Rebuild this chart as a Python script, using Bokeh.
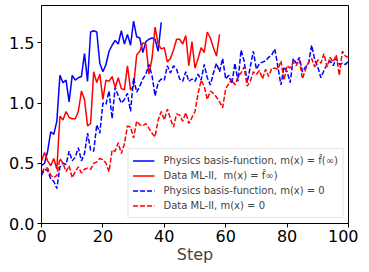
from bokeh.plotting import figure
from bokeh.models import FixedTicker, PrintfTickFormatter, Range1d, Legend, LegendItem
from bokeh.embed import file_html
from bokeh.resources import INLINE

steps_phys_hat = list(range(0, 40))
phys_hat = [0.48, 0.50, 0.60, 0.76, 0.74, 0.85, 1.23, 1.17, 1.19, 1.01,
            1.23, 1.19, 1.21, 1.22, 1.41, 1.18, 1.59, 1.60, 1.59, 1.33,
            1.26, 1.32, 1.43, 1.48, 1.52, 1.49, 1.60, 1.49, 1.57, 1.48,
            1.68, 1.55, 1.54, 1.42, 1.51, 1.53, 1.54, 1.53, 1.43, 1.67]

steps_data_hat = list(range(0, 59))
data_hat = [0.52, 0.59, 0.52, 0.48, 0.54, 0.45, 0.89, 0.86, 0.93, 0.88,
            0.87, 0.87, 0.93, 1.10, 1.03, 0.81, 0.83, 1.26, 1.17, 1.24,
            1.03, 1.19, 1.18, 1.22, 1.13, 1.21, 1.12, 1.11, 1.31, 1.11,
            1.14, 1.40, 1.43, 1.50, 1.49, 1.24, 1.37, 1.63, 1.49, 1.45,
            1.46, 1.34, 1.37, 1.44, 1.53, 1.53, 1.49, 1.56, 1.31, 1.51,
            1.29, 1.37, 1.46, 1.42, 1.59, 1.54, 1.46, 1.39, 1.57]

steps_zero = list(range(0, 101))
phys_zero = [0.40, 0.45, 0.44, 0.37, 0.35, 0.29, 0.47, 0.50, 0.49, 0.60,
             0.52, 0.55, 0.63, 0.52, 0.58, 0.75, 0.61, 0.60, 0.82, 0.75,
             1.00, 0.99, 1.10, 0.87, 1.13, 1.06, 1.00, 1.03, 1.08, 0.93,
             1.21, 1.09, 1.14, 1.20, 1.24, 1.32, 1.23, 1.06, 1.17, 1.20,
             1.19, 1.31, 1.25, 1.31, 1.28, 1.20, 1.18, 1.26, 1.18, 1.20,
             1.18, 1.24, 1.19, 1.32, 1.21, 1.15, 1.25, 1.33, 1.26, 1.37,
             1.20, 1.23, 1.16, 1.33, 1.18, 1.44, 1.35, 1.17, 1.30, 1.43,
             1.28, 1.33, 1.34, 1.35, 1.38, 1.40, 1.45, 1.30, 1.15, 1.30,
             1.26, 1.17, 1.37, 1.33, 1.38, 1.26, 1.30, 1.33, 1.48, 1.36,
             1.30, 1.21, 1.27, 1.32, 1.35, 1.31, 1.37, 1.32, 1.33, 1.32,
             1.35]
data_zero = [0.42, 0.46, 0.46, 0.40, 0.38, 0.40, 0.54, 0.50, 0.43, 0.48,
             0.38, 0.43, 0.47, 0.42, 0.45, 0.46, 0.45, 0.50, 0.51, 0.54,
             0.53, 0.50, 0.43, 0.61, 0.60, 0.67, 0.58, 0.66, 0.81, 0.80,
             0.71, 0.85, 0.82, 0.81, 0.83, 0.79, 0.75, 0.72, 0.86, 0.93,
             0.86, 0.95, 0.87, 0.80, 0.91, 0.90, 0.85, 0.92, 0.83, 0.88,
             0.93, 1.08, 1.19, 1.14, 1.03, 1.10, 1.08, 1.05, 1.01, 0.96,
             1.12, 1.16, 1.20, 1.15, 1.22, 1.25, 1.30, 1.14, 1.18, 1.26,
             1.24, 1.27, 1.20, 1.28, 1.22, 1.29, 1.29, 1.28, 1.35, 1.19,
             1.31, 1.29, 1.34, 1.31, 1.36, 1.20, 1.28, 1.34, 1.37, 1.30,
             1.36, 1.33, 1.41, 1.30, 1.38, 1.34, 1.40, 1.23, 1.43, 1.39,
             1.38]

labels = ["Physics basis-function, m(x) = f\u0302(\u221e)",
          "Data ML-II,  m(x) = f\u0302\u221e)",
          "Physics basis-function, m(x) = 0",
          "Data ML-II, m(x) = 0"]
x_ticks = [0, 20, 40, 60, 80, 100]
y_ticks = [0.0, 0.5, 1.0, 1.5]

FONT = "DejaVu Sans"

p = figure(frame_width=307, frame_height=218, output_backend="svg",
           toolbar_location=None,
           x_range=Range1d(0, 100), y_range=Range1d(0, 1.81),
           min_border_left=41, min_border_right=10, min_border_top=5,
           min_border_bottom=44)
p.outline_line_color = "black"
p.outline_line_width = 1
p.xgrid.visible = False
p.ygrid.visible = False

for ax in (p.xaxis[0], p.yaxis[0]):
    ax.major_label_text_font = FONT
    ax.major_label_text_font_size = "16px"
    ax.major_label_text_color = "black"
    ax.axis_line_color = "black"
    ax.major_tick_line_color = "black"
    ax.major_tick_out = 4
    ax.major_tick_in = 0
    ax.minor_tick_line_color = None
p.xaxis.major_label_standoff = 2
p.yaxis.major_label_standoff = 3
p.xaxis.ticker = FixedTicker(ticks=x_ticks)
p.yaxis.ticker = FixedTicker(ticks=y_ticks)
p.yaxis.formatter = PrintfTickFormatter(format="%.1f")
p.xaxis.axis_label = "Step"
p.xaxis.axis_label_text_font = FONT
p.xaxis.axis_label_text_font_size = "16px"
p.xaxis.axis_label_text_font_style = "normal"
p.xaxis.axis_label_standoff = 0

r1 = p.line(steps_phys_hat, phys_hat, line_color="blue", line_width=1.5)
r2 = p.line(steps_data_hat, data_hat, line_color="red", line_width=1.5)
r3 = p.line(steps_zero, phys_zero, line_color="blue", line_width=1.5, line_dash="5 2")
r4 = p.line(steps_zero, data_zero, line_color="red", line_width=1.5, line_dash="5 2")

legend = Legend(items=[LegendItem(label=labels[0], renderers=[r1]),
                       LegendItem(label=labels[1], renderers=[r2]),
                       LegendItem(label=labels[2], renderers=[r3]),
                       LegendItem(label=labels[3], renderers=[r4])],
                location="bottom_right")
legend.label_text_font = FONT
legend.label_text_font_size = "10px"
legend.glyph_width = 22
legend.glyph_height = 15
legend.label_height = 15
legend.label_standoff = 9
legend.spacing = 0
legend.padding = 4
legend.margin = 5
legend.border_line_color = "#cccccc"
legend.border_line_width = 1
legend.background_fill_alpha = 0.8
p.add_layout(legend)

open("out.html", "w").write(file_html(p, INLINE))
